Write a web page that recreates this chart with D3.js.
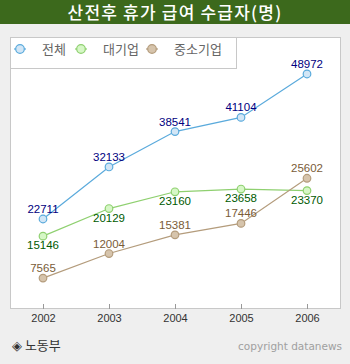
<!DOCTYPE html>
<html><head><meta charset="utf-8">
<script src="https://cdn.jsdelivr.net/npm/d3@7"></script>
<style>
html,body{margin:0;padding:0;background:#efefef;}
svg{display:block;}
</style></head>
<body>
<svg id="c" width="350" height="364"></svg>
<script>
const years = ["2002","2003","2004","2005","2006"];
const total = [22711, 32133, 38541, 41104, 48972];
const large = [15146, 20129, 23160, 23658, 23370];
const small = [7565, 12004, 15381, 17446, 25602];
const seriesNames = ["전체", "대기업", "중소기업"];
const title = "산전후 휴가 급여 수급자(명)";
const source = "◈ 노동부";
const credit = "copyright datanews";

const svg = d3.select("#c");
svg.append("rect").attr("width",350).attr("height",364).attr("fill","#efefef");
svg.append("rect").attr("width",350).attr("height",24).attr("fill","#3c691c");
svg.append("text").attr("x",175).attr("y",18.5).attr("text-anchor","middle")
  .attr("fill","#fff").attr("font-family","'Noto Sans CJK KR'").attr("font-size",17)
  .attr("font-weight","500").attr("letter-spacing",1.2).text(title);

// plot area
svg.append("rect").attr("x",10.5).attr("y",37.5).attr("width",330).attr("height",271)
  .attr("fill","#fff").attr("stroke","#c8c8c8");

const x = d3.scalePoint().domain(years).range([43, 307]);
const yTotal = d3.scaleLinear().domain([0, 50000]).range([344.4, 68.3]);
const yPart = d3.scaleLinear().domain([0, 50000]).range([320, 43.2]);

const ax = svg.append("g").attr("transform","translate(0,309)")
  .call(d3.axisBottom(x).tickSizeInner(-5).tickSizeOuter(0).tickPadding(5));
ax.select(".domain").remove();
ax.selectAll("line").attr("stroke","#999");
ax.selectAll("text").attr("font-family","'Liberation Sans'").attr("font-size",11).attr("fill","#333");

const series = [
  {name: seriesNames[0], vals: total, y: yTotal, stroke:"#5aaadc", fill:"#d2e6f6", lab:"#000080", below:false},
  {name: seriesNames[1], vals: large, y: yPart, stroke:"#8fd070", fill:"#d6f7c6", lab:"#005a00", below:true},
  {name: seriesNames[2], vals: small, y: yPart, stroke:"#b49c7c", fill:"#d6c4ac", lab:"#7a5c38", below:false}
];

series.forEach(s => {
  const line = d3.line().x((d,i)=>x(years[i])).y(d=>s.y(d));
  svg.append("path").datum(s.vals).attr("d",line).attr("fill","none")
    .attr("stroke",s.stroke).attr("stroke-width",1.2);
});
series.forEach(s => {
  const g = svg.append("g");
  g.selectAll("circle").data(s.vals).join("circle")
    .attr("cx",(d,i)=>x(years[i])).attr("cy",d=>s.y(d)).attr("r",3.8)
    .attr("fill",s.fill).attr("stroke",s.stroke).attr("stroke-width",1.2);
  g.selectAll("text").data(s.vals).join("text")
    .attr("x",(d,i)=>x(years[i])).attr("y",d=>s.y(d)+(s.below?13:-6))
    .attr("text-anchor","middle").attr("font-family","'Liberation Sans'").attr("font-size",11.5)
    .attr("fill",s.lab).text(d=>d);
});

// legend
svg.append("rect").attr("x",10.5).attr("y",37.5).attr("width",226).attr("height",31)
  .attr("fill","#fff").attr("stroke","#c8c8c8");
const lx = [20, 81, 152];
const lg = svg.append("g").selectAll("g").data(series).join("g")
  .attr("transform",(d,i)=>`translate(${lx[i]},49)`);
lg.append("line").attr("x1",-6).attr("x2",6).attr("stroke",d=>d.stroke).attr("stroke-width",1.2);
lg.append("circle").attr("r",4.3).attr("fill",d=>d.fill).attr("stroke",d=>d.stroke).attr("stroke-width",1.2);
lg.append("text").attr("x",22).attr("y",5).attr("font-family","'Noto Sans CJK KR'")
  .attr("font-size",13).attr("fill","#666").text(d=>d.name);

svg.append("text").attr("x",12).attr("y",350).attr("font-family","'Noto Sans CJK KR'")
  .attr("font-size",13).attr("fill","#333").text(source);
svg.append("text").attr("x",342).attr("y",350).attr("text-anchor","end").attr("font-family","'DejaVu Sans'")
  .attr("font-size",10.5).attr("fill","#a0a0a0").text(credit);
</script>
</body></html>
